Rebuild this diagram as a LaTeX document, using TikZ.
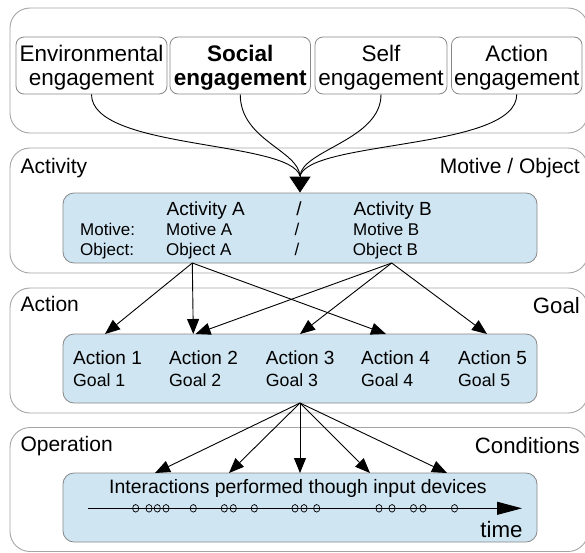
\documentclass[tikz,border=0pt]{standalone}
\usepackage{fontspec}
\setmainfont{Liberation Sans}
\usetikzlibrary{arrows.meta}
\definecolor{boxblue}{RGB}{207,229,242}
\definecolor{panelgray}{RGB}{165,165,165}
\definecolor{boxgray}{RGB}{135,135,135}
\begin{document}
\begin{tikzpicture}[x=1pt,y=-1pt,
  panel/.style={draw=panelgray,line width=0.9pt,rounded corners=20pt,minimum width=578pt,inner sep=0pt},
  engbox/.style={draw=boxgray,line width=0.8pt,rounded corners=8pt,inner sep=0pt,minimum height=57pt},
  engtext/.style={align=center,inner sep=0pt,font=\fontsize{22.5}{24.3}\selectfont},
  bluebox/.style={draw=boxgray,fill=boxblue,line width=0.8pt,rounded corners=11pt,minimum width=474pt,inner sep=0pt},
  lbl/.style={inner sep=0pt,font=\fontsize{21}{24}\selectfont},
  lblr/.style={inner sep=0pt,font=\fontsize{22.2}{24}\selectfont},
  tbig/.style={inner sep=0pt,font=\fontsize{19}{22}\selectfont},
  tsmall/.style={inner sep=0pt,font=\fontsize{17}{20}\selectfont},
  tgoal/.style={inner sep=0pt,font=\fontsize{17.7}{20}\selectfont},
  conn/.style={line width=0.9pt},
  arr/.style={line width=0.9pt,-{Triangle[length=15pt,width=12pt]}}
]
\useasboundingbox (0,0) rectangle (585,552);
\begin{scope}
\clip (0,0) rectangle (585,552);
% panels
\node[panel,minimum height=125pt] (p1) at (299,70.5) {};
\node[panel,minimum height=125pt] (p2) at (299,210.5) {};
\node[panel,minimum height=125pt] (p3) at (299,350.5) {};
\node[panel,minimum height=124pt] (p4) at (299,489.5) {};
\end{scope}
% panel labels
\node[lbl,anchor=base west] (lact) at (20.5,173) {Activity};
\node[lbl,anchor=base east] (lmo) at (580,173) {Motive / Object};
\node[lbl,anchor=base west] (lacn) at (20.3,311.8) {Action};
\node[lblr,anchor=base east] (lgoal) at (580,313.3) {Goal};
\node[lbl,anchor=base west] (lop) at (20.3,451.8) {Operation};
\node[lblr,anchor=base east] (lcond) at (580,453.3) {Conditions};
% engagement boxes
\node[engbox,minimum width=151pt] (env) at (91.5,65.5) {};
\node[engbox,minimum width=140.5pt] (soc) at (240.25,65.5) {};
\node[engbox,minimum width=132pt] (slf) at (381,65.5) {};
\node[engbox,minimum width=130.5pt] (acte) at (516.75,65.5) {};
\node[engtext] (envt) at (91.5,67.6) {Environmental\\engagement};
\node[engtext] (soct) at (240.25,67.6) {\bfseries Social\\\bfseries engagement};
\node[engtext] (slft) at (381,67.6) {Self\\engagement};
\node[engtext] (actet) at (516.75,67.6) {Action\\engagement};
% blue boxes
\node[bluebox,minimum height=70pt] (actbox) at (300,228) {};
\node[bluebox,minimum height=69pt] (acnbox) at (300,368.5) {};
\node[bluebox,minimum height=69pt] (opbox) at (300,507.5) {};
% converging curves
\coordinate (conv) at (300,176);
\draw[conn] (env.south) .. controls (91.5,150) and (290,140) .. (conv);
\draw[conn] (soc.south) .. controls (240.25,140) and (298,150) .. (conv);
\draw[conn] (slf.south) .. controls (381,140) and (302,150) .. (conv);
\draw[conn] (acte.south) .. controls (516.75,150) and (310,140) .. (conv);
\draw[conn,-{Triangle[length=16pt,width=21pt]}] (conv) -- (actbox.north);
% activity box text
\node[tbig,anchor=base west] (actA) at (166.5,215) {Activity A};
\node[tbig,anchor=base] (s1) at (299,215) {/};
\node[tbig,anchor=base west] (actB) at (353.5,215) {Activity B};
\node[tsmall,anchor=base west] (mlab) at (80,235.7) {Motive:};
\node[tsmall,anchor=base west] (motA) at (166,235.7) {Motive A};
\node[tsmall,anchor=base] (s2) at (297,235.7) {/};
\node[tsmall,anchor=base west] (motB) at (353,235.7) {Motive B};
\node[tsmall,anchor=base west] (olab) at (80,255) {Object:};
\node[tsmall,anchor=base west] (objA) at (166,255) {Object A};
\node[tsmall,anchor=base] (s3) at (297,255) {/};
\node[tsmall,anchor=base west] (objB) at (352.7,255) {Object B};
% action box text
\foreach \i/\x in {1/73,2/169,3/265.7,4/361,5/458}{
  \node[tbig,anchor=base west] (a\i) at (\x,364.3) {Action \i};
  \node[tgoal,anchor=base west] (g\i) at (\x,386.5) {Goal \i};
}
% arrows activity -> action
\coordinate (srcA) at (192.3,263);
\coordinate (srcB) at (391.7,263);
\coordinate (t1) at (105,334);
\coordinate (t2) at (193.3,334);
\coordinate (t2b) at (195.5,334);
\coordinate (t3) at (300,334);
\coordinate (t4) at (386,334);
\coordinate (t5) at (487,334);
\draw[arr] (srcA) -- (t1);
\draw[arr] (srcA) -- (t2);
\draw[arr] (srcA) -- (t4);
\draw[arr] (srcB) -- (t2b);
\draw[arr] (srcB) -- (t3);
\draw[arr] (srcB) -- (t5);
% arrows action -> operation
\coordinate (srcG) at (300,403);
\coordinate (u1) at (155,473);
\coordinate (u2) at (229,473);
\coordinate (u3) at (300,473);
\coordinate (u4) at (370,473);
\coordinate (u5) at (447,473);
\foreach \k in {1,...,5}{\draw[arr] (srcG) -- (u\k);}
% operation box content
\node[inner sep=0pt,font=\fontsize{19.4}{22}\selectfont,anchor=base west] (inter) at (109,493) {Interactions performed though input devices};
\coordinate (tl0) at (88,508.3);
\coordinate (tl1) at (522,508.3);
\draw[line width=0.9pt,-{Triangle[length=25pt,width=13pt]}] (tl0) -- (tl1);
\foreach \x in {135.7,149,157.3,166,193.3,224.3,233.3,254.3,295,304,316.7,379,392,413.5,423,454.5}{
  \draw[line width=0.7pt] (\x,508.3) ellipse [x radius=3.1pt,y radius=3.8pt];
}
\node[inner sep=0pt,font=\fontsize{22.3}{24}\selectfont,anchor=base east] (time) at (522.7,537) {time};
\end{tikzpicture}
\end{document}
